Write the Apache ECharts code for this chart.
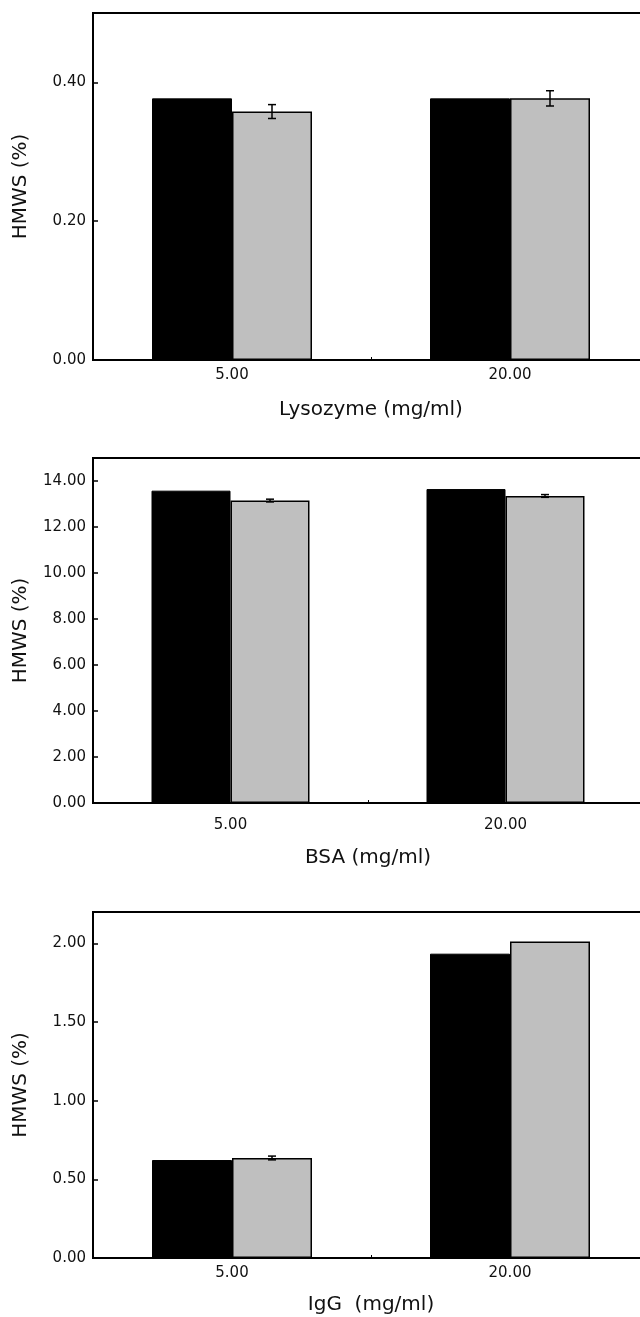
<!DOCTYPE html>
<html>
<head>
<meta charset="utf-8">
<script src="https://cdn.jsdelivr.net/npm/echarts@6/dist/echarts.min.js"></script>
<style>
  html, body { margin: 0; padding: 0; background: #fff; }
  #chart { width: 640px; height: 1317px; }
</style>
</head>
<body>
<div id="chart"></div>
<script>
// concentrations on the x axis
var categories = ['5.00', '20.00'];

// Lysozyme panel
var lysBlack = [0.377, 0.377];
var lysGray = [0.358, 0.377];
var lysErr = [0.010, 0.011];

// BSA panel
var bsaBlack = [13.58, 13.65];
var bsaGray = [13.15, 13.35];
var bsaErr = [0.06, 0.06];

// IgG panel
var iggBlack = [0.623, 1.935];
var iggGray = [0.636, 2.012];
var iggErr = [0.012, 0];

var panels = [
    { name: 'Lysozyme (mg/ml)', black: lysBlack, gray: lysGray, err: lysErr, max: 0.5, interval: 0.2,
      top: 13, height: 347, width: 556, barW: 80, labelMargin: 8, nameGap: 40 },
    { name: 'BSA (mg/ml)', black: bsaBlack, gray: bsaGray, err: bsaErr, max: 15, interval: 2,
      top: 458, height: 345, width: 550, barW: 79, labelMargin: 15, nameGap: 45 },
    { name: 'IgG  (mg/ml)', black: iggBlack, gray: iggGray, err: iggErr, max: 2.2, interval: 0.5,
      top: 912, height: 346, width: 556, barW: 80, labelMargin: 8, nameGap: 37 }
];

var FONT = '"DejaVu Sans", Arial, sans-serif';

var grid = [], xAxis = [], yAxis = [], series = [];

panels.forEach(function (p, i) {
    grid.push({
        left: 93, width: p.width, top: p.top, height: p.height,
        outerBoundsMode: 'none', containLabel: false,
        show: true, borderColor: '#000', borderWidth: 2, backgroundColor: 'transparent'
    });
    xAxis.push({
        type: 'category', gridIndex: i, data: categories,
        name: p.name, nameLocation: 'middle', nameGap: p.nameGap,
        nameTextStyle: { fontFamily: FONT, fontSize: 20, color: '#111' },
        axisLine: { lineStyle: { color: '#000', width: 2 } },
        axisTick: { show: true, inside: true, length: 3, lineStyle: { color: '#000' } },
        axisLabel: { fontFamily: FONT, fontSize: 15, color: '#111', margin: p.labelMargin },
        splitLine: { show: false }
    });
    yAxis.push({
        type: 'value', gridIndex: i, min: 0, max: p.max, interval: p.interval,
        name: 'HMWS (%)', nameLocation: 'middle', nameGap: 62, nameRotate: 90,
        nameTextStyle: { fontFamily: FONT, fontSize: 20, color: '#111' },
        axisLine: { show: true, lineStyle: { color: '#000', width: 1.5 } },
        axisTick: { show: true, inside: true, length: 5, lineStyle: { color: '#000', width: 1.5 } },
        axisLabel: {
            fontFamily: FONT, fontSize: 15, color: '#111', margin: 7, showMaxLabel: false,
            formatter: function (v) { return v.toFixed(2); }
        },
        splitLine: { show: false }
    });
    series.push({
        type: 'bar', xAxisIndex: i, yAxisIndex: i, data: p.black,
        barWidth: p.barW, barGap: '0%',
        itemStyle: { color: '#000', borderColor: '#000', borderWidth: 1 }
    });
    series.push({
        type: 'bar', xAxisIndex: i, yAxisIndex: i, data: p.gray,
        barWidth: p.barW, barGap: '0%',
        itemStyle: { color: '#bfbfbf', borderColor: '#000', borderWidth: 1.5 }
    });
    // error bars on the gray bars
    series.push({
        type: 'custom', xAxisIndex: i, yAxisIndex: i, z: 5,
        data: p.gray.map(function (v, k) { return [k, v, p.err[k]]; }),
        renderItem: function (params, api) {
            var e = api.value(2);
            if (!e) return null;
            var top = api.coord([api.value(0), api.value(1) + e]);
            var bot = api.coord([api.value(0), api.value(1) - e]);
            var x = top[0] + p.barW / 2;
            var cap = 4;
            var st = { stroke: '#000', lineWidth: 1.5 };
            return {
                type: 'group',
                children: [
                    { type: 'line', shape: { x1: x, y1: top[1], x2: x, y2: bot[1] }, style: st },
                    { type: 'line', shape: { x1: x - cap, y1: top[1], x2: x + cap, y2: top[1] }, style: st },
                    { type: 'line', shape: { x1: x - cap, y1: bot[1], x2: x + cap, y2: bot[1] }, style: st }
                ]
            };
        }
    });
});

var chart = echarts.init(document.getElementById('chart'));
chart.setOption({
    animation: false,
    backgroundColor: '#fff',
    grid: grid,
    xAxis: xAxis,
    yAxis: yAxis,
    series: series
});
</script>
</body>
</html>
